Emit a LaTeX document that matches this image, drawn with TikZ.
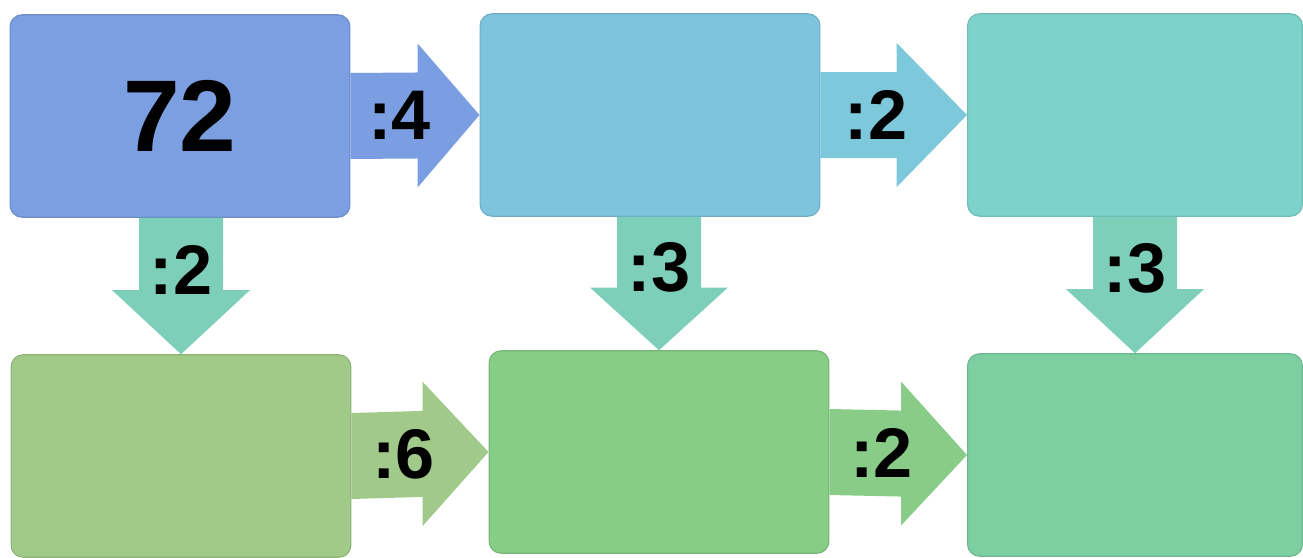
\documentclass[tikz,border=0pt]{standalone}
\usepackage{fontspec}
\setmainfont{Liberation Sans}
\usepackage{tikz}
\usetikzlibrary{calc}

\definecolor{boxA}{RGB}{123,159,224}
\definecolor{boxB}{RGB}{126,196,222}
\definecolor{boxC}{RGB}{125,211,203}
\definecolor{boxD}{RGB}{161,201,135}
\definecolor{boxE}{RGB}{134,205,134}
\definecolor{boxF}{RGB}{125,207,162}
\definecolor{arrA}{RGB}{123,158,226}
\definecolor{arrB}{RGB}{125,200,218}
\definecolor{arrC}{RGB}{126,207,186}
\definecolor{arrD}{RGB}{161,201,138}
\definecolor{arrE}{RGB}{137,204,135}

\tikzset{
  box/.style={rectangle, rounded corners=0.24cm, minimum width=6.8cm, minimum height=4.05cm,
    draw=#1!88!black, line width=0.6pt, fill=#1},
  lbl/.style={font=\bfseries\fontsize{40}{40}\selectfont, text=black, inner sep=0pt}
}

% arrow to the right: from, to, colour, text
\newcommand{\rightarr}[4]{%
  \fill[#3] ($(#1.east)+(0,-43)$) -- ($(#1.east)!0.52!(#2.west)+(0,-43)$)
    -- ($(#1.east)!0.52!(#2.west)+(0,-72)$) -- (#2.west)
    -- ($(#1.east)!0.52!(#2.west)+(0,72)$) -- ($(#1.east)!0.52!(#2.west)+(0,43)$)
    -- ($(#1.east)+(0,43)$) -- cycle;
  \node[lbl] (#1#2) at ($(#1.east)!0.38!(#2.west)$) {#4};
}
% arrow downwards: from, to, colour, text
\newcommand{\downarr}[4]{%
  \coordinate (s) at (#2.north |- #1.south);
  \fill[#3] ($(s)+(-42,0)$) -- ($(s)!0.53!(#2.north)+(-42,0)$)
    -- ($(s)!0.53!(#2.north)+(-69,0)$) -- (#2.north)
    -- ($(s)!0.53!(#2.north)+(69,0)$) -- ($(s)!0.53!(#2.north)+(42,0)$)
    -- ($(s)+(42,0)$) -- cycle;
  \node[lbl] (#1#2) at ($(s)!0.38!(#2.north)$) {#4};
}

\begin{document}
\begin{tikzpicture}[x=0.02cm, y=-0.02cm]
  \useasboundingbox (0,0) rectangle (1303,558);

  % Draw the boxes
  \node[box=boxA] (b1) at (180,116) {\fontsize{58}{58}\selectfont\bfseries 72};
  \node[box=boxB] (b2) at (650,115) {};
  \node[box=boxC, minimum width=6.7cm] (b3) at (1135,115) {};
  \node[box=boxD] (b4) at (181,456) {};
  \node[box=boxE] (b5) at (659,452) {};
  \node[box=boxF, minimum width=6.7cm] (b6) at (1135,455) {};

  % Draw the arrows
  \rightarr{b1}{b2}{arrA}{:4}
  \rightarr{b2}{b3}{arrB}{:2}
  \rightarr{b4}{b5}{arrD}{:6}
  \rightarr{b5}{b6}{arrE}{:2}
  \downarr{b1}{b4}{arrC}{:2}
  \downarr{b2}{b5}{arrC}{:3}
  \downarr{b3}{b6}{arrC}{:3}
\end{tikzpicture}
\end{document}
